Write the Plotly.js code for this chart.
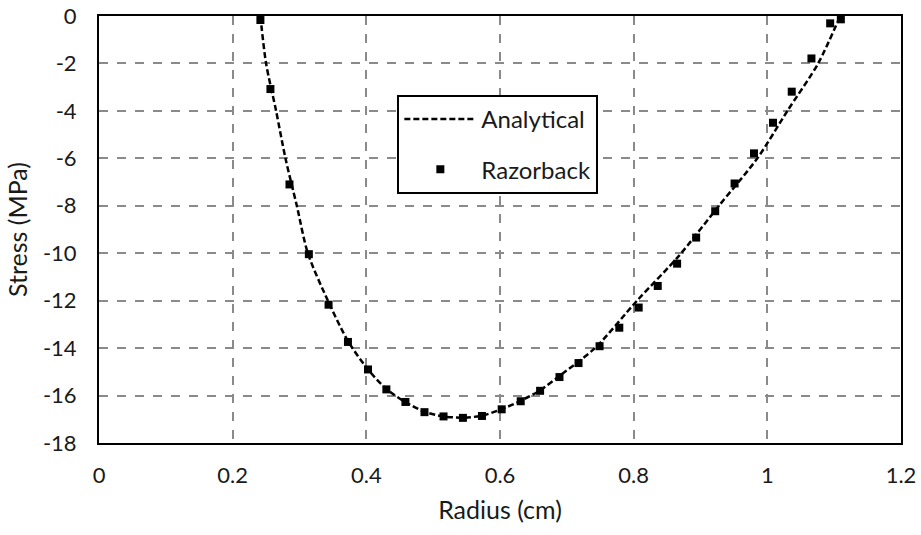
<!DOCTYPE html>
<html>
<head>
<meta charset="utf-8">
<script src="https://cdn.plot.ly/plotly-3.0.1.min.js"></script>
<style>html,body{margin:0;padding:0;background:#fff;}#chart{width:921px;height:535px;}</style>
</head>
<body>
<div id="chart"></div>
<script>
// Analytical solution
const analyticalRadius = [0.2415, 0.25, 0.265, 0.279, 0.296, 0.3125, 0.3425, 0.3725, 0.4025, 0.43, 0.458, 0.487, 0.515, 0.544, 0.573, 0.602, 0.631, 0.66, 0.69, 0.742, 0.805, 0.868, 0.9275, 0.985, 1.03, 1.076, 1.109];
const analyticalStress = [0, -2, -4, -6, -8, -10, -12, -13.7, -14.9, -15.72, -16.27, -16.68, -16.88, -16.93, -16.85, -16.58, -16.22, -15.78, -15.15, -14, -12, -10.1, -8, -6, -4, -2, 0];

// Razorback simulation results (markers)
const razorbackRadius = [0.2415, 0.2565, 0.285, 0.314, 0.3435, 0.3725, 0.4025, 0.43, 0.4585, 0.487, 0.5155, 0.5445, 0.573, 0.6025, 0.631, 0.66, 0.689, 0.7175, 0.749, 0.7785, 0.8075, 0.836, 0.865, 0.8935, 0.922, 0.951, 0.98, 1.0085, 1.0365, 1.066, 1.094, 1.11];
const razorbackStress = [-0.17, -3.08, -7.1, -10.04, -12.17, -13.74, -14.9, -15.74, -16.27, -16.7, -16.88, -16.94, -16.86, -16.58, -16.24, -15.8, -15.22, -14.63, -13.92, -13.14, -12.29, -11.38, -10.44, -9.34, -8.23, -7.06, -5.79, -4.5, -3.19, -1.79, -0.31, -0.14];

const xTicks = [0, 0.2, 0.4, 0.6, 0.8, 1, 1.2];
const xTickText = ['0', '0.2', '0.4', '0.6', '0.8', '1', '1.2'];
const yTicks = [0, -2, -4, -6, -8, -10, -12, -14, -16, -18];
const yTickText = ['0', '-2', '-4', '-6', '-8', '-10', '-12', '-14', '-16', '-18'];

const FONT = 'Lato, "Open Sans", sans-serif';

const traces = [
  {
    x: analyticalRadius, y: analyticalStress,
    type: 'scatter', mode: 'lines', name: 'Analytical',
    legendgroup: 'a',
    line: {color: '#000', width: 2.5, dash: '6px,3px', shape: 'spline', smoothing: 0.8}
  },
  {
    x: razorbackRadius, y: razorbackStress,
    type: 'scatter', mode: 'markers', name: 'Razorback',
    legendgroup: 'b',
    marker: {symbol: 'square', size: 8, color: '#000'}
  }
];

const axisCommon = {
  showline: true, linecolor: '#000', linewidth: 2, mirror: true,
  showgrid: true, gridcolor: '#8a8a8a', gridwidth: 2, griddash: 'dash',
  zeroline: false, ticks: '',
  tickfont: {family: FONT, size: 22, color: '#1a1a1a'}
};

const layout = {
  width: 921, height: 535,
  margin: {l: 99, r: 20, t: 16, b: 92},
  paper_bgcolor: '#fff', plot_bgcolor: '#fff',
  font: {family: FONT, color: '#1a1a1a'},
  xaxis: Object.assign({}, axisCommon, {
    range: [0, 1.2], tickvals: xTicks, ticktext: xTickText,
    ticklabelstandoff: 12,
    title: {text: 'Radius (cm)', font: {family: FONT, size: 25, color: '#1a1a1a'}, standoff: 14}
  }),
  yaxis: Object.assign({}, axisCommon, {
    range: [-18, 0], tickvals: yTicks, ticktext: yTickText,
    ticklabelstandoff: 16,
    title: {text: 'Stress (MPa)', font: {family: FONT, size: 25, color: '#1a1a1a'}, standoff: 8}
  }),
  showlegend: true,
  legend: {
    x: 0.372, y: 0.815, xanchor: 'left', yanchor: 'top',
    bgcolor: '#fff', bordercolor: '#000', borderwidth: 2,
    font: {family: FONT, size: 24, color: '#1a1a1a'},
    itemwidth: 72, tracegroupgap: 16,
    entrywidth: 208, entrywidthmode: 'pixels',
    traceorder: 'grouped'
  }
};

Plotly.newPlot('chart', traces, layout, {displayModeBar: false, staticPlot: true});
</script>
</body>
</html>
